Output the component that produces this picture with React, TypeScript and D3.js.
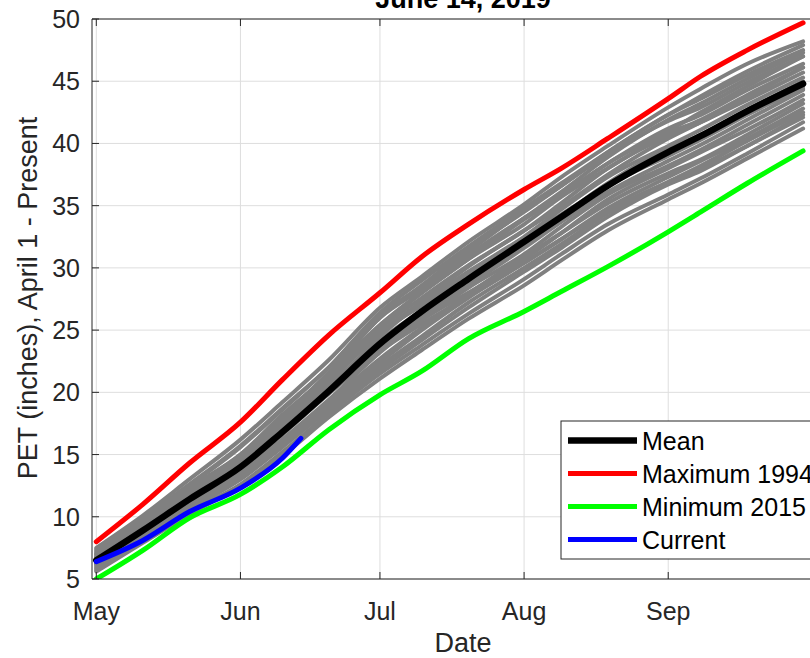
import * as d3 from 'd3';

const days = [0, 10, 20, 31, 40, 50, 61, 70, 80, 92, 100, 110, 123, 130, 140, 152];

const meanPet = [6.5, 8.9, 11.4, 14.0, 16.8, 20.1, 23.9, 26.5, 29.1, 32.1, 34.1, 36.6, 39.3, 40.6, 42.6, 44.8];
const max1994 = [8.0, 11.0, 14.3, 17.6, 21.0, 24.6, 28.0, 30.9, 33.5, 36.3, 38.0, 40.4, 43.6, 45.4, 47.5, 49.7];
const min2015 = [5.0, 7.3, 9.9, 11.8, 14.0, 17.0, 19.8, 21.7, 24.3, 26.5, 28.1, 30.1, 32.9, 34.5, 36.8, 39.4];

const currentDays = [0, 10, 20, 31, 40, 44];
const current2019 = [6.4, 8.1, 10.4, 12.3, 14.7, 16.3];

// the other years, drawn in gray
const otherYears = [
  [7.5, 10.1, 13.0, 16.2, 19.2, 22.6, 26.8, 29.3, 32.1, 35.1, 37.3, 39.8, 42.9, 44.4, 46.4, 48.2],
  [7.2, 9.7, 12.5, 15.6, 18.6, 22.0, 26.4, 29.0, 31.7, 34.8, 36.8, 39.3, 42.3, 43.6, 45.5, 47.5],
  [7.0, 9.6, 12.3, 15.0, 18.0, 21.6, 26.0, 28.3, 30.9, 34.0, 36.1, 38.9, 41.9, 43.2, 45.2, 47.3],
  [6.8, 9.3, 12.1, 15.0, 18.2, 21.4, 25.4, 28.0, 30.7, 33.9, 35.8, 38.4, 41.0, 42.5, 44.6, 47.0],
  [6.3, 8.9, 11.7, 14.7, 17.8, 21.2, 25.4, 28.1, 31.0, 34.0, 35.9, 38.4, 41.2, 42.3, 44.3, 46.4],
  [7.1, 9.5, 11.9, 14.5, 17.4, 20.9, 25.1, 27.6, 30.2, 33.0, 35.2, 38.0, 40.6, 41.7, 43.7, 46.1],
  [6.7, 9.2, 11.8, 14.3, 17.2, 20.8, 24.8, 27.3, 30.1, 33.0, 34.9, 37.5, 40.4, 41.7, 43.5, 45.7],
  [6.6, 9.0, 11.7, 14.5, 17.2, 20.3, 24.5, 27.2, 29.7, 32.5, 34.7, 37.3, 39.8, 41.1, 43.1, 45.3],
  [6.1, 8.7, 11.4, 14.2, 17.0, 20.5, 24.2, 26.6, 29.4, 32.3, 34.2, 36.8, 39.6, 40.7, 42.7, 45.0],
  [6.9, 9.2, 11.5, 14.0, 16.8, 20.2, 24.1, 26.4, 28.9, 31.8, 34.0, 36.6, 39.0, 40.3, 42.3, 44.6],
  [6.5, 8.8, 11.3, 13.8, 16.8, 20.1, 23.6, 26.1, 28.6, 31.6, 33.7, 36.1, 38.6, 39.9, 41.9, 44.3],
  [5.9, 8.4, 10.9, 13.7, 16.6, 19.9, 23.5, 25.8, 28.4, 31.1, 33.3, 35.9, 38.2, 39.5, 41.5, 43.9],
  [6.7, 8.9, 11.1, 13.5, 16.2, 19.4, 23.2, 25.8, 28.0, 30.7, 32.8, 35.5, 38.0, 39.3, 41.1, 43.5],
  [6.2, 8.6, 11.0, 13.3, 16.0, 19.2, 22.7, 25.2, 27.9, 30.9, 32.8, 35.2, 37.6, 38.7, 40.7, 43.2],
  [6.4, 8.7, 11.0, 13.2, 15.8, 19.0, 22.4, 25.0, 27.6, 30.4, 32.3, 34.8, 37.3, 38.6, 40.4, 42.8],
  [6.0, 8.4, 10.6, 13.2, 15.8, 18.9, 22.1, 24.5, 27.2, 30.0, 31.9, 34.4, 36.9, 38.2, 40.2, 42.5],
  [5.7, 8.1, 10.6, 13.0, 15.6, 18.6, 21.8, 24.2, 26.8, 29.7, 31.6, 34.1, 36.7, 37.8, 39.8, 42.1],
  [5.8, 8.0, 10.4, 12.6, 15.2, 18.3, 21.5, 23.8, 26.3, 29.1, 31.1, 33.5, 35.9, 37.2, 39.2, 41.7],
  [5.6, 7.9, 10.2, 12.5, 14.9, 18.0, 21.1, 23.4, 25.9, 28.6, 30.6, 33.0, 35.5, 36.8, 38.8, 41.2],
  [7.3, 9.7, 12.2, 14.9, 17.7, 21.0, 24.8, 27.0, 29.6, 32.4, 34.3, 36.6, 39.3, 40.6, 42.4, 44.4],
  [6.2, 8.8, 11.5, 14.3, 17.6, 21.4, 26.0, 28.6, 31.5, 34.5, 36.6, 39.1, 41.8, 42.9, 44.9, 47.0],
  [7.0, 9.5, 12.1, 14.7, 17.0, 19.9, 23.3, 25.5, 27.7, 30.4, 32.3, 34.6, 36.9, 38.0, 39.8, 42.3],
  [6.3, 8.6, 11.1, 14.2, 17.4, 21.0, 25.2, 28.0, 30.7, 33.5, 35.7, 38.0, 40.8, 41.9, 43.9, 46.1],
  [7.4, 9.9, 12.6, 15.7, 18.7, 22.0, 26.2, 28.5, 31.3, 34.6, 36.6, 39.3, 42.3, 43.8, 45.8, 47.9],
];

const yTicks = [5, 10, 15, 20, 25, 30, 35, 40, 45, 50];
const legendLabels = ['Mean', 'Maximum 1994', 'Minimum 2015', 'Current'];
const legendColors = ['#000000', '#ff0000', '#00ff00', '#0000ff'];
const legendWidths = [6.5, 5, 5, 5];

const W = 810;
const H = 658;
const margin = { left: 92, right: 834, top: 19, bottom: 579 };
const font = "'Liberation Sans', Arial, Helvetica, sans-serif";
const axisColor = '#262626';
const gridColor = '#dedede';

const may1 = Date.UTC(2019, 4, 1);
const toDate = (d: number) => new Date(may1 + d * 864e5);

const App = () => {
  const x = d3
    .scaleUtc()
    .domain([toDate(-0.925), toDate(158.65)])
    .range([margin.left, margin.right]);
  const y = d3.scaleLinear().domain([5, 50]).range([margin.bottom, margin.top]);

  const monthTicks = d3.utcMonth.range(toDate(0), toDate(124));
  const fmt = d3.utcFormat('%b');

  const line = d3
    .line<[number, number]>()
    .x((d) => x(toDate(d[0])))
    .y((d) => y(d[1]))
    .curve(d3.curveMonotoneX);

  const series = (vals: number[], ds: number[] = days) =>
    line(ds.map((d, i) => [d, vals[i]] as [number, number])) || '';

  const legendX = 561;
  const legendY = 421;

  return (
    <svg
      width={W}
      height={H}
      style={{ position: 'absolute', left: 0, top: 0, background: '#fff' }}
      fontFamily={font}
    >
      <defs>
        <clipPath id='plot-clip'>
          <rect
            x={margin.left}
            y={margin.top}
            width={margin.right - margin.left}
            height={margin.bottom - margin.top}
          />
        </clipPath>
      </defs>

      {/* grid */}
      <g stroke={gridColor} strokeWidth={1}>
        {yTicks.map((t) => (
          <line key={'gy' + t} x1={margin.left} x2={margin.right} y1={y(t)} y2={y(t)} />
        ))}
        {monthTicks.map((m) => (
          <line key={'gx' + m.getTime()} x1={x(m)} x2={x(m)} y1={margin.top} y2={margin.bottom} />
        ))}
      </g>

      {/* data */}
      <g clipPath='url(#plot-clip)' fill='none' strokeLinejoin='round' strokeLinecap='round'>
        {otherYears.map((vals, i) => (
          <path key={'yr' + i} d={series(vals)} stroke='#808080' strokeWidth={4} />
        ))}
        <path d={series(meanPet)} stroke='#000000' strokeWidth={6.5} />
        <path d={series(max1994)} stroke='#ff0000' strokeWidth={5} />
        <path d={series(min2015)} stroke='#00ff00' strokeWidth={5} />
        <path d={series(current2019, currentDays)} stroke='#0000ff' strokeWidth={5} />
      </g>

      {/* axes box and ticks */}
      <g stroke={axisColor} strokeWidth={1} fill='none'>
        <line x1={margin.left} x2={margin.right} y1={margin.top} y2={margin.top} />
        <line x1={margin.left} x2={margin.right} y1={margin.bottom} y2={margin.bottom} />
        <line x1={margin.left} x2={margin.left} y1={margin.top} y2={margin.bottom} />
        {yTicks.map((t) => (
          <line key={'ty' + t} x1={margin.left} x2={margin.left + 7} y1={y(t)} y2={y(t)} />
        ))}
        {monthTicks.map((m) => (
          <g key={'tx' + m.getTime()}>
            <line x1={x(m)} x2={x(m)} y1={margin.bottom} y2={margin.bottom - 7} />
            <line x1={x(m)} x2={x(m)} y1={margin.top} y2={margin.top + 7} />
          </g>
        ))}
      </g>

      {/* tick labels */}
      <g fill={axisColor} fontSize={25}>
        {yTicks.map((t) => (
          <text key={'ly' + t} x={80} y={y(t)} dy='0.36em' textAnchor='end'>
            {t}
          </text>
        ))}
        {monthTicks.map((m) => (
          <text key={'lx' + m.getTime()} x={x(m)} y={620} textAnchor='middle'>
            {fmt(m)}
          </text>
        ))}
      </g>

      {/* axis labels and title */}
      <text x={463} y={652} textAnchor='middle' fontSize={27} fill={axisColor}>
        Date
      </text>
      <text
        transform='translate(37,298) rotate(-90)'
        textAnchor='middle'
        fontSize={27}
        fill={axisColor}
      >
        PET (inches), April 1 - Present
      </text>
      <text x={463} y={8} textAnchor='middle' fontSize={27} fontWeight='bold' fill='#000'>
        June 14, 2019
      </text>

      {/* legend */}
      <g>
        <rect
          x={legendX}
          y={legendY}
          width={265}
          height={138}
          fill='#fff'
          stroke={axisColor}
          strokeWidth={1}
        />
        {legendLabels.map((label, i) => {
          const cy = legendY + 19.5 + i * 33;
          return (
            <g key={label}>
              <line
                x1={legendX + 7}
                x2={legendX + 76}
                y1={cy}
                y2={cy}
                stroke={legendColors[i]}
                strokeWidth={legendWidths[i]}
              />
              <text x={legendX + 81} y={cy + 9} fontSize={25} fill='#000'>
                {label}
              </text>
            </g>
          );
        })}
      </g>
    </svg>
  );
};

export default App;
